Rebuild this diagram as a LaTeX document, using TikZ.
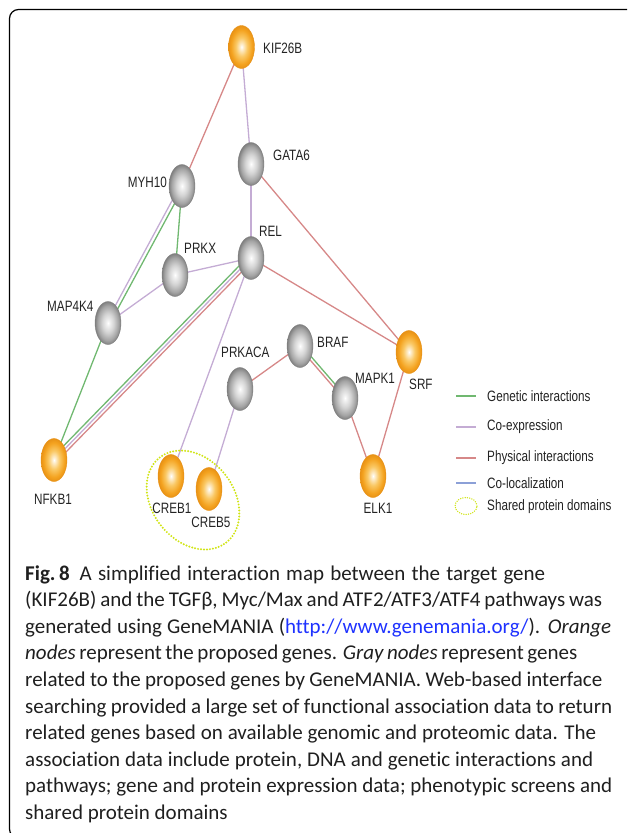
\documentclass[tikz,border=0pt]{standalone}
\usepackage{fontspec}
\setmainfont[Ligatures=NoCommon]{Carlito}
\newfontfamily\labfont[FakeStretch=0.78]{Liberation Sans}
\usetikzlibrary{shapes.geometric,backgrounds,calc}
\definecolor{orA}{RGB}{244,163,32}
\definecolor{orB}{RGB}{250,200,100}
\definecolor{orC}{RGB}{232,146,22}
\definecolor{grA}{RGB}{165,165,165}
\definecolor{grB}{RGB}{212,212,212}
\definecolor{grC}{RGB}{128,128,128}
\definecolor{genc}{RGB}{112,184,112}
\definecolor{coexc}{RGB}{196,172,212}
\definecolor{physc}{RGB}{214,136,136}
\definecolor{colocc}{RGB}{140,160,215}
\definecolor{dotc}{RGB}{208,228,20}
\definecolor{linkc}{RGB}{30,50,255}
\definecolor{labc}{RGB}{35,35,35}
\pgfdeclareradialshading{orangesph}{\pgfpoint{0bp}{0bp}}{color(0bp)=(white); color(3bp)=(white!70!orB); color(11bp)=(orB); color(20bp)=(orA); color(25bp)=(orC); color(50bp)=(orC)}
\pgfdeclareradialshading{graysph}{\pgfpoint{0bp}{0bp}}{color(0bp)=(white); color(3bp)=(white!70!grB); color(11bp)=(grB); color(20bp)=(grA); color(25bp)=(grC); color(50bp)=(grC)}
\newcommand{\capline}[2]{\hbox to #1pt{\spaceskip=0.226em plus 0.4em minus 0.12em\relax #2}}
\tikzset{
  gene/.style={ellipse, minimum width=26pt, minimum height=43pt, inner sep=0pt},
  ornode/.style={gene, shading=orangesph, draw=orC, line width=0.4pt},
  grnode/.style={gene, shading=graysph, draw=grC, line width=0.4pt},
  lab/.style={font=\labfont\fontsize{15}{15}\selectfont, text=labc, inner sep=0pt},
  genl/.style={draw=genc, line width=1.3pt},
  coexl/.style={draw=coexc, line width=1.3pt},
  physl/.style={draw=physc, line width=1.3pt},
  coloc/.style={draw=colocc, line width=1.3pt},
  dotring/.style={draw=dotc, line width=2.2pt, dash pattern=on 0pt off 3pt, line cap=round},
  legline/.style={line width=2.2pt},
  captext/.style={anchor=base west, inner sep=0pt, font=\fontsize{21}{24}\selectfont, text=black!88},
}
\begin{document}
\begin{tikzpicture}[x=1pt,y=-1pt]
\useasboundingbox (0,0) rectangle (627,833);
\begin{scope}
\clip (0,0) rectangle (627,833);
\draw[line width=1.2pt, rounded corners=9pt] (9.5,9.5) rectangle (640,838);
\end{scope}

% dotted shared-domain ring
\node[dotring, ellipse, minimum width=108pt, minimum height=82pt, rotate=-52] (ring) at (193,500) {};

% genes
\node[ornode] (KIF26B) at (241.5,47) {};
\node[grnode] (GATA6) at (251,164) {};
\node[grnode] (MYH10) at (182,186) {};
\node[grnode] (REL) at (251,258) {};
\node[grnode] (PRKX) at (175,275) {};
\node[grnode] (MAP4K4) at (108,323) {};
\node[grnode] (BRAF) at (300,346) {};
\node[grnode] (PRKACA) at (240,389) {};
\node[grnode] (MAPK1) at (345,398) {};
\node[ornode] (SRF) at (409,352) {};
\node[ornode] (NFKB1) at (54,460) {};
\node[ornode] (CREB1) at (171,476) {};
\node[ornode] (CREB5) at (209,489) {};
\node[ornode] (ELK1) at (373,476) {};

% connectors
\begin{scope}[on background layer]
\draw[physl] (KIF26B.center) -- (MYH10.center);
\draw[coexl] (KIF26B.center) -- (GATA6.center);
\draw[coexl] (GATA6.center) -- (REL.center);
\draw[physl] (GATA6.center) -- (SRF.center);
\draw[genl] (MYH10.center) -- (PRKX.center);
\draw[genl] ($(MYH10.center)!1.8pt!90:(MAP4K4.center)$) -- ($(MAP4K4.center)!1.8pt!-90:(MYH10.center)$);
\draw[coexl] ($(MYH10.center)!1.8pt!-90:(MAP4K4.center)$) -- ($(MAP4K4.center)!1.8pt!90:(MYH10.center)$);
\draw[genl] (MAP4K4.center) -- (NFKB1.center);
\draw[coexl] (PRKX.center) -- (REL.center);
\draw[coexl] (PRKX.center) -- (MAP4K4.center);
\draw[genl] ($(REL.center)!3pt!-90:(NFKB1.center)$) -- ($(NFKB1.center)!3pt!90:(REL.center)$);
\draw[coexl] (REL.center) -- (NFKB1.center);
\draw[physl] ($(REL.center)!3pt!90:(NFKB1.center)$) -- ($(NFKB1.center)!3pt!-90:(REL.center)$);
\draw[physl] (REL.center) -- (SRF.center);
\draw[coexl] (REL.center) -- (CREB1.center);
\draw[coexl] (PRKACA.center) -- (CREB5.center);
\draw[physl] (PRKACA.center) -- (BRAF.center);
\draw[genl] ($(BRAF.center)!1.5pt!90:(MAPK1.center)$) -- ($(MAPK1.center)!1.5pt!-90:(BRAF.center)$);
\draw[physl] ($(BRAF.center)!1.5pt!-90:(MAPK1.center)$) -- ($(MAPK1.center)!1.5pt!90:(BRAF.center)$);
\draw[physl] (MAPK1.center) -- (ELK1.center);
\draw[physl] (SRF.center) -- (ELK1.center);
\end{scope}

% labels
\node[lab, anchor=west] (lKIF26B) at (263,48) {KIF26B};
\node[lab, anchor=west] (lGATA6) at (273,155) {GATA6};
\node[lab, anchor=east] (lMYH10) at (167,182) {MYH10};
\node[lab, anchor=west] (lPRKX) at (184,248) {PRKX};
\node[lab, anchor=west] (lREL) at (259,231) {REL};
\node[lab, anchor=west] (lMAP4K4) at (47,306) {MAP4K4};
\node[lab, anchor=west] (lPRKACA) at (221,352) {PRKACA};
\node[lab, anchor=west] (lBRAF) at (317,342) {BRAF};
\node[lab, anchor=west] (lMAPK1) at (355,378) {MAPK1};
\node[lab, anchor=west] (lSRF) at (409,384) {SRF};
\node[lab] (lNFKB1) at (53,499) {NFKB1};
\node[lab] (lCREB1) at (172,508) {CREB1};
\node[lab] (lCREB5) at (211,522) {CREB5};
\node[lab] (lELK1) at (378,508) {ELK1};

% legend
\coordinate (g1) at (456,396); \coordinate (g2) at (476,396);
\coordinate (c1) at (456,427); \coordinate (c2) at (476,427);
\coordinate (p1) at (456,458); \coordinate (p2) at (476,458);
\coordinate (o1) at (456,483); \coordinate (o2) at (476,483);
\draw[genl, legline] (g1) -- (g2);
\draw[coexl, legline] (c1) -- (c2);
\draw[physl, legline] (p1) -- (p2);
\draw[coloc, legline] (o1) -- (o2);
\node[draw=dotc, line width=1.5pt, dash pattern=on 0pt off 2.3pt, line cap=round, ellipse, minimum width=22pt, minimum height=17pt, inner sep=0pt] (legring) at (466,506) {};
\node[lab, anchor=west] (tg) at (487,396) {Genetic interactions};
\node[lab, anchor=west] (tc) at (487,427) {Co-expression};
\node[lab, anchor=west] (tp) at (487,458) {Physical interactions};
\node[lab, anchor=west] (to) at (487,483) {Co-localization};
\node[lab, anchor=west] (ts) at (487,507) {Shared protein domains};

% caption
\node[captext] (cap1) at (25,580) {\capline{520}{\textbf{Fig.\,8}\hspace{10pt}A simplified interaction map between the target gene}};
\node[captext] (cap2) at (25,606.6) {\capline{577}{(KIF26B) and the TGFβ, Myc/Max and ATF2/ATF3/ATF4 pathways was}};
\node[captext] (cap3) at (25,633.2) {\capline{586}{generated using GeneMANIA (\textcolor{linkc}{http://www.genemania.org/}). \textit{Orange}}};
\node[captext] (cap4) at (25,659.8) {\capline{552}{\textit{nodes} represent the proposed genes. \textit{Gray nodes} represent genes}};
\node[captext] (cap5) at (25,686.4) {\capline{577}{related to the proposed genes by GeneMANIA. Web-based interface}};
\node[captext] (cap6) at (25,713) {\capline{587}{searching provided a large set of functional association data to return}};
\node[captext] (cap7) at (25,739.6) {\capline{571}{related genes based on available genomic and proteomic data. The}};
\node[captext] (cap8) at (25,766.2) {\capline{568}{association data include protein, DNA and genetic interactions and}};
\node[captext] (cap9) at (25,792.8) {\capline{587}{pathways; gene and protein expression data; phenotypic screens and}};
\node[captext] (cap10) at (25,819.4) {shared protein domains};
\end{tikzpicture}
\end{document}
